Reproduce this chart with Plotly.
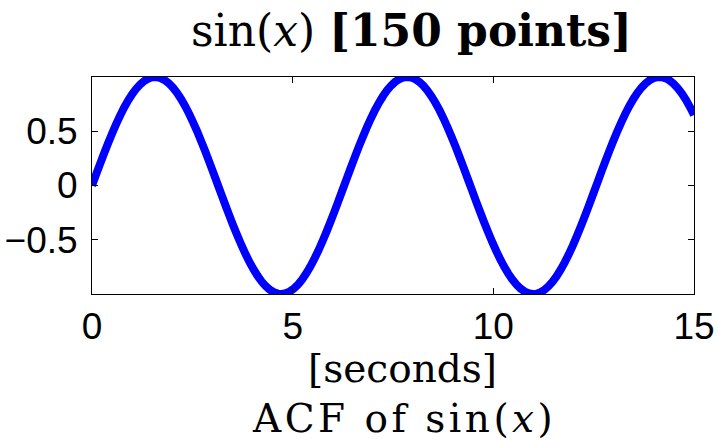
import numpy as np
import plotly.graph_objects as go

# Sampling grid: 150 points over [0, 15] seconds
T_START, T_END, N_POINTS = 0.0, 15.0, 150
t = np.linspace(T_START, T_END, N_POINTS)

# sin(x) sampled on the grid above
signal = [
    0.0000, 0.1005, 0.2000, 0.2974, 0.3919, 0.4824, 0.5680, 0.6478, 0.7211, 0.7871,
    0.8451, 0.8945, 0.9349, 0.9659, 0.9870, 0.9982, 0.9992, 0.9901, 0.9710, 0.9421,
    0.9036, 0.8560, 0.7997, 0.7353, 0.6635, 0.5849, 0.5005, 0.4109, 0.3172, 0.2203,
    0.1212, 0.0208, -0.0798, -0.1796, -0.2775, -0.3727, -0.4641, -0.5507, -0.6318, -0.7065,
    -0.7741, -0.8338, -0.8851, -0.9274, -0.9603, -0.9835, -0.9967, -0.9998, -0.9928, -0.9758,
    -0.9489, -0.9123, -0.8666, -0.8120, -0.7493, -0.6789, -0.6017, -0.5184, -0.4298, -0.3369,
    -0.2405, -0.1418, -0.0416, 0.0591, 0.1591, 0.2575, 0.3533, 0.4456, 0.5333, 0.6156,
    0.6917, 0.7608, 0.8221, 0.8752, 0.9194, 0.9543, 0.9795, 0.9948, 1.0000, 0.9951,
    0.9801, 0.9552, 0.9207, 0.8768, 0.8240, 0.7629, 0.6940, 0.6182, 0.5360, 0.4485,
    0.3564, 0.2607, 0.1623, 0.0623, -0.0383, -0.1385, -0.2374, -0.3338, -0.4268, -0.5156,
    -0.5991, -0.6765, -0.7471, -0.8101, -0.8649, -0.9110, -0.9478, -0.9751, -0.9924, -0.9997,
    -0.9969, -0.9840, -0.9612, -0.9286, -0.8866, -0.8356, -0.7761, -0.7088, -0.6344, -0.5535,
    -0.4670, -0.3757, -0.2807, -0.1828, -0.0831, 0.0175, 0.1179, 0.2171, 0.3141, 0.4079,
    0.4976, 0.5823, 0.6611, 0.7331, 0.7978, 0.8543, 0.9022, 0.9410, 0.9702, 0.9897,
    0.9991, 0.9983, 0.9875, 0.9667, 0.9361, 0.8960, 0.8468, 0.7891, 0.7233, 0.6503,
]

x_ticks = [0, 5, 10, 15]
y_ticks = [-0.5, 0, 0.5]
y_tick_text = ["\u22120.5", "0", "0.5"]

title_text = "sin(<i>x</i>) <b>[150 points]</b>"
xlabel_line1 = "[seconds]"
xlabel_line2 = '<span style="letter-spacing:3.5px">ACF of sin(<i>x</i>)</span>'

SERIF = "DejaVu Serif"
SANS = "Liberation Sans, Arial, sans-serif"

fig = go.Figure()
fig.add_trace(go.Scatter(
    x=t, y=signal, mode="lines",
    line=dict(color="#0000ff", width=8, simplify=False),
    hoverinfo="skip", showlegend=False,
))

axis_common = dict(
    showline=True, linecolor="black", linewidth=1, mirror="ticks",
    ticks="inside", ticklen=6, tickwidth=1, tickcolor="black",
    showgrid=False, zeroline=False, automargin=False,
    tickfont=dict(family=SANS, size=37, color="black"),
)

fig.update_layout(
    template="none",
    width=717, height=440,
    margin=dict(l=92, r=23, t=77, b=146),
    paper_bgcolor="white", plot_bgcolor="white",
    xaxis=dict(range=[T_START, T_END], tickvals=x_ticks, ticklabelstandoff=0, **axis_common),
    yaxis=dict(range=[-1, 1], tickvals=y_ticks, ticktext=y_tick_text, ticklabelstandoff=6, **axis_common),
    annotations=[
        dict(text=title_text, xref="paper", yref="paper", x=0.53, y=1.212,
             xanchor="center", yanchor="middle", showarrow=False,
             font=dict(family=SERIF, size=44, color="black")),
        dict(text=xlabel_line1, xref="paper", yref="paper", x=0.515, y=-0.345,
             xanchor="center", yanchor="middle", showarrow=False,
             font=dict(family=SERIF, size=39, color="black")),
        dict(text=xlabel_line2, xref="paper", yref="paper", x=0.518, y=-0.575,
             xanchor="center", yanchor="middle", showarrow=False,
             font=dict(family=SERIF, size=39, color="black")),
    ],
)

fig.write_html("out.html")
